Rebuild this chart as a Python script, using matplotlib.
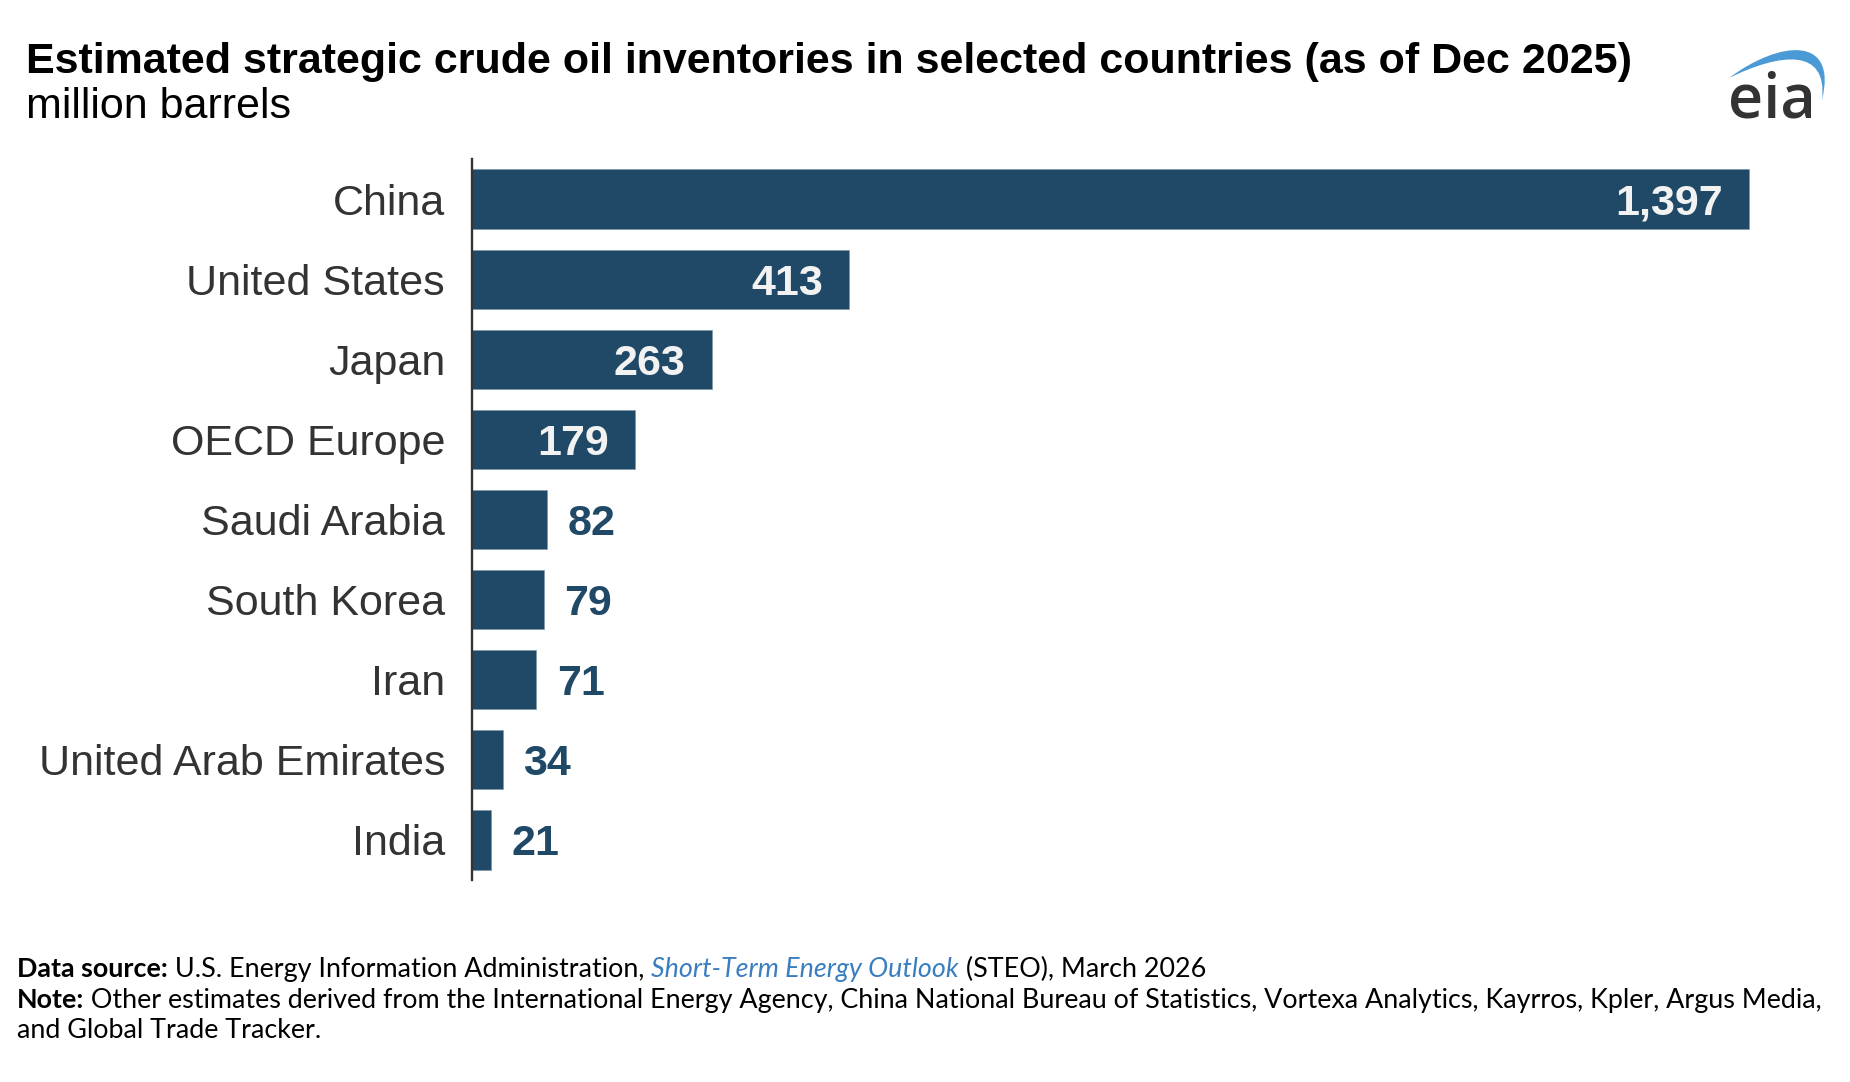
import numpy as np
import matplotlib.pyplot as plt
from matplotlib.path import Path
from matplotlib.patches import PathPatch

countries = ['China', 'United States', 'Japan', 'OECD Europe', 'Saudi Arabia',
             'South Korea', 'Iran', 'United Arab Emirates', 'India']
barrels = [1397, 413, 263, 179, 82, 79, 71, 34, 21]

title = 'Estimated strategic crude oil inventories in selected countries (as of Dec 2025)'
subtitle = 'million barrels'

bar_color = '#1f4966'
text_gray = '#333333'

W, H = 1850, 1082
fig = plt.figure(figsize=(W / 100, H / 100), dpi=100)
fig.patch.set_facecolor('white')

# axes placed in pixel terms of the reference
ax = fig.add_axes([471.5 / W, 1 - 880 / H, (1770 - 471.5) / W, 721 / H])
y = np.arange(len(countries))
ax.barh(y, barrels, height=0.74, color=bar_color, edgecolor='#7d97aa', linewidth=0.5)
ax.set_xlim(0, (1770 - 471.5) / 0.9148)
ax.set_ylim(len(countries) - 0.5, -0.5)
ax.set_yticks(y)
ax.set_yticklabels(countries, fontsize=31, color=text_gray, family='Liberation Sans')
ax.tick_params(axis='y', length=0, pad=19)
ax.set_xticks([])
for s in ['top', 'right', 'bottom']:
    ax.spines[s].set_visible(False)
ax.spines['left'].set_color(text_gray)
ax.spines['left'].set_linewidth(1.7)

for yi, v in zip(y, barrels):
    if v > 100:
        ax.annotate(f'{v:,}', (v, yi), xytext=(-19, 0), textcoords='offset points',
                    ha='right', va='center_baseline', fontsize=31, fontweight='bold',
                    color='#f2f2f2', family='Liberation Sans')
    else:
        ax.annotate(f'{v:,}', (v, yi), xytext=(15, 0), textcoords='offset points',
                    ha='left', va='center_baseline', fontsize=31, fontweight='bold',
                    color=bar_color, family='Liberation Sans')

fig.text(26 / W, 1 - 73 / H, title, fontsize=31, fontweight='bold', color='black',
         family='Liberation Sans', va='baseline')
fig.text(26 / W, 1 - 118 / H, subtitle, fontsize=31, color='black',
         family='Liberation Sans', va='baseline')

# eia logo
fig.text(1728 / W, 1 - 117 / H, 'eia', fontsize=44, color='#333333', family='Open Sans',
         fontweight='semibold', va='baseline')
outer = [(1729, 78), (1780, 40), (1838, 35), (1822, 100)]
inner = [(1828, 47), (1780, 53), (1729, 78)]
verts = [(x / W, 1 - yy / H) for x, yy in outer + inner]
codes = [Path.MOVETO, Path.CURVE4, Path.CURVE4, Path.CURVE4,
         Path.CURVE4, Path.CURVE4, Path.CURVE4]
fig.patches.append(PathPatch(Path(verts, codes), transform=fig.transFigure,
                             facecolor='#4a9ad6', edgecolor='none'))

# footer with mixed styles
fig.canvas.draw()
renderer = fig.canvas.get_renderer()


def run_line(pieces, x0, ybase):
    x = x0
    for txt, kw in pieces:
        t = fig.text(x, ybase, txt, fontsize=19.4, family='Lato', va='baseline', **kw)
        bb = t.get_window_extent(renderer)
        x = bb.x1 / W


plain = dict(color='black')
bold = dict(color='black', fontweight='bold')
link = dict(color='#3a7ebf', style='italic')

run_line([('Data source:', bold),
          (' U.S. Energy Information Administration, ', plain),
          ('Short-Term Energy Outlook', link),
          (' (STEO), March 2026', plain)], 17 / W, 1 - 977 / H)
run_line([('Note:', bold),
          (' Other estimates derived from the International Energy Agency, China National '
           'Bureau of Statistics, Vortexa Analytics, Kayrros, Kpler, Argus Media,', plain)],
         17 / W, 1 - 1008 / H)
run_line([('and Global Trade Tracker.', plain)], 17 / W, 1 - 1038 / H)

fig.savefig('out.png', dpi=100)
